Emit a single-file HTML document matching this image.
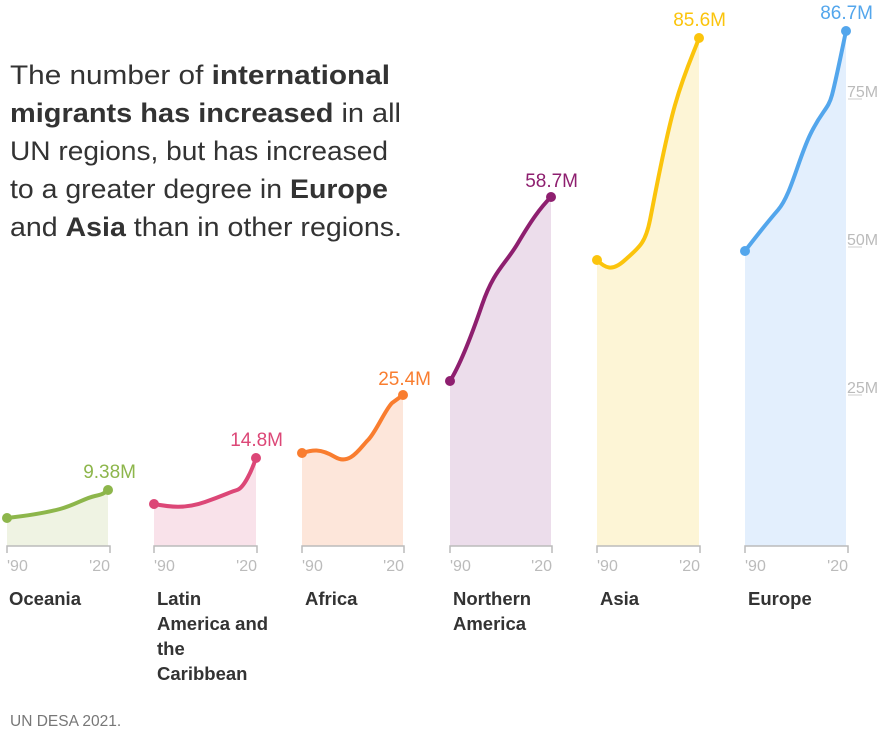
<!DOCTYPE html>
<html><head><style>
body{margin:0;background:#fff;}
svg{display:block;font-family:"Liberation Sans",sans-serif;}
</style></head><body>
<svg width="892" height="732" viewBox="0 0 892 732">
<g font-size="27" fill="#333">
<text x="10" y="84" textLength="380" lengthAdjust="spacingAndGlyphs">The number of <tspan font-weight="bold">international</tspan></text>
<text x="10" y="122" textLength="391" lengthAdjust="spacingAndGlyphs"><tspan font-weight="bold">migrants has increased</tspan> in all</text>
<text x="10" y="160" textLength="378" lengthAdjust="spacingAndGlyphs">UN regions, but has increased</text>
<text x="10" y="198" textLength="378" lengthAdjust="spacingAndGlyphs">to a greater degree in <tspan font-weight="bold">Europe</tspan></text>
<text x="10" y="236" textLength="392" lengthAdjust="spacingAndGlyphs">and <tspan font-weight="bold">Asia</tspan> than in other regions.</text>
</g>
<g font-size="16" fill="#bbb">
<line x1="848" y1="99" x2="862" y2="99" stroke="#ccc"/><text x="847" y="97">75M</text>
<line x1="848" y1="247" x2="862" y2="247" stroke="#ccc"/><text x="847" y="245">50M</text>
<line x1="848" y1="395" x2="862" y2="395" stroke="#ccc"/><text x="847" y="393">25M</text>
</g>
<g stroke-width="4" fill="none" stroke-linecap="round" stroke-linejoin="round">
<path d="M7,518 C25,516 45,513 60,509 S85,498 95,496 S105,492 108,490 L108,546 L7,546Z" fill="#eff3e3" stroke="none"/>
<path d="M7,518 C25,516 45,513 60,509 S85,498 95,496 S105,492 108,490" stroke="#8db64b"/>
<path d="M154,504 C170,507 185,509 205,502 S230,492 237,490 S252,470 256,458 L256,546 L154,546Z" fill="#f9e2ea" stroke="none"/>
<path d="M154,504 C170,507 185,509 205,502 S230,492 237,490 S252,470 256,458" stroke="#dc4777"/>
<path d="M302,453 C312,450 320,448 335,457 S360,448 368,440 S385,410 392,403 L403,395 L403,546 L302,546Z" fill="#fde6da" stroke="none"/>
<path d="M302,453 C312,450 320,448 335,457 S360,448 368,440 S385,410 392,403 L403,395" stroke="#f97d2f"/>
<path d="M450,381 C460,365 470,340 482,305 S505,265 518,243 S540,208 551,197 L551,546 L450,546Z" fill="#ecddeb" stroke="none"/>
<path d="M450,381 C460,365 470,340 482,305 S505,265 518,243 S540,208 551,197" stroke="#8e1f6f"/>
<path d="M597,260 C605,268 612,272 625,260 S645,245 650,220 S665,140 675,105 S695,50 699,38 L699,546 L597,546Z" fill="#fdf5d6" stroke="none"/>
<path d="M597,260 C605,268 612,272 625,260 S645,245 650,220 S665,140 675,105 S695,50 699,38" stroke="#fbc40c"/>
<path d="M745,251 C755,238 765,225 778,210 S798,160 810,135 S828,110 832,95 S842,50 846,31 L846,546 L745,546Z" fill="#e3effd" stroke="none"/>
<path d="M745,251 C755,238 765,225 778,210 S798,160 810,135 S828,110 832,95 S842,50 846,31" stroke="#53a6ec"/>
</g>
<g>
<circle cx="7" cy="518" r="5" fill="#8db64b"/><circle cx="108" cy="490" r="5" fill="#8db64b"/>
<circle cx="154" cy="504" r="5" fill="#dc4777"/><circle cx="256" cy="458" r="5" fill="#dc4777"/>
<circle cx="302" cy="453" r="5" fill="#f97d2f"/><circle cx="403" cy="395" r="5" fill="#f97d2f"/>
<circle cx="450" cy="381" r="5" fill="#8e1f6f"/><circle cx="551" cy="197" r="5" fill="#8e1f6f"/>
<circle cx="597" cy="260" r="5" fill="#fbc40c"/><circle cx="699" cy="38" r="5" fill="#fbc40c"/>
<circle cx="745" cy="251" r="5" fill="#53a6ec"/><circle cx="846" cy="31" r="5" fill="#53a6ec"/>
</g>
<g font-size="19" text-anchor="end">
<text x="136" y="478" fill="#8db64b">9.38M</text>
<text x="283" y="446" fill="#dc4777">14.8M</text>
<text x="431" y="385" fill="#f97d2f">25.4M</text>
<text x="578" y="187" fill="#8e1f6f">58.7M</text>
<text x="726" y="26" fill="#fbc40c">85.6M</text>
<text x="873" y="19" fill="#53a6ec">86.7M</text>
</g>
<g stroke="#bbb" stroke-width="1.5" fill="none">
<path d="M7,553 V546 H110 V553"/><path d="M154,553 V546 H257 V553"/><path d="M302,553 V546 H404 V553"/>
<path d="M450,553 V546 H552 V553"/><path d="M597,553 V546 H700 V553"/><path d="M745,553 V546 H848 V553"/>
</g>
<g font-size="16" fill="#bbb">
<text x="7" y="571">'90</text><text x="110" y="571" text-anchor="end">'20</text>
<text x="154" y="571">'90</text><text x="257" y="571" text-anchor="end">'20</text>
<text x="302" y="571">'90</text><text x="404" y="571" text-anchor="end">'20</text>
<text x="450" y="571">'90</text><text x="552" y="571" text-anchor="end">'20</text>
<text x="597" y="571">'90</text><text x="700" y="571" text-anchor="end">'20</text>
<text x="745" y="571">'90</text><text x="848" y="571" text-anchor="end">'20</text>
</g>
<g font-size="18.5" font-weight="bold" fill="#333">
<text x="9" y="605">Oceania</text>
<text x="157" y="605">Latin</text><text x="157" y="630">America and</text><text x="157" y="655">the</text><text x="157" y="680">Caribbean</text>
<text x="305" y="605">Africa</text>
<text x="453" y="605">Northern</text><text x="453" y="630">America</text>
<text x="600" y="605">Asia</text>
<text x="748" y="605">Europe</text>
</g>
<text x="10" y="726" font-size="15.5" fill="#777">UN DESA 2021.</text>
</svg>
</body></html>
